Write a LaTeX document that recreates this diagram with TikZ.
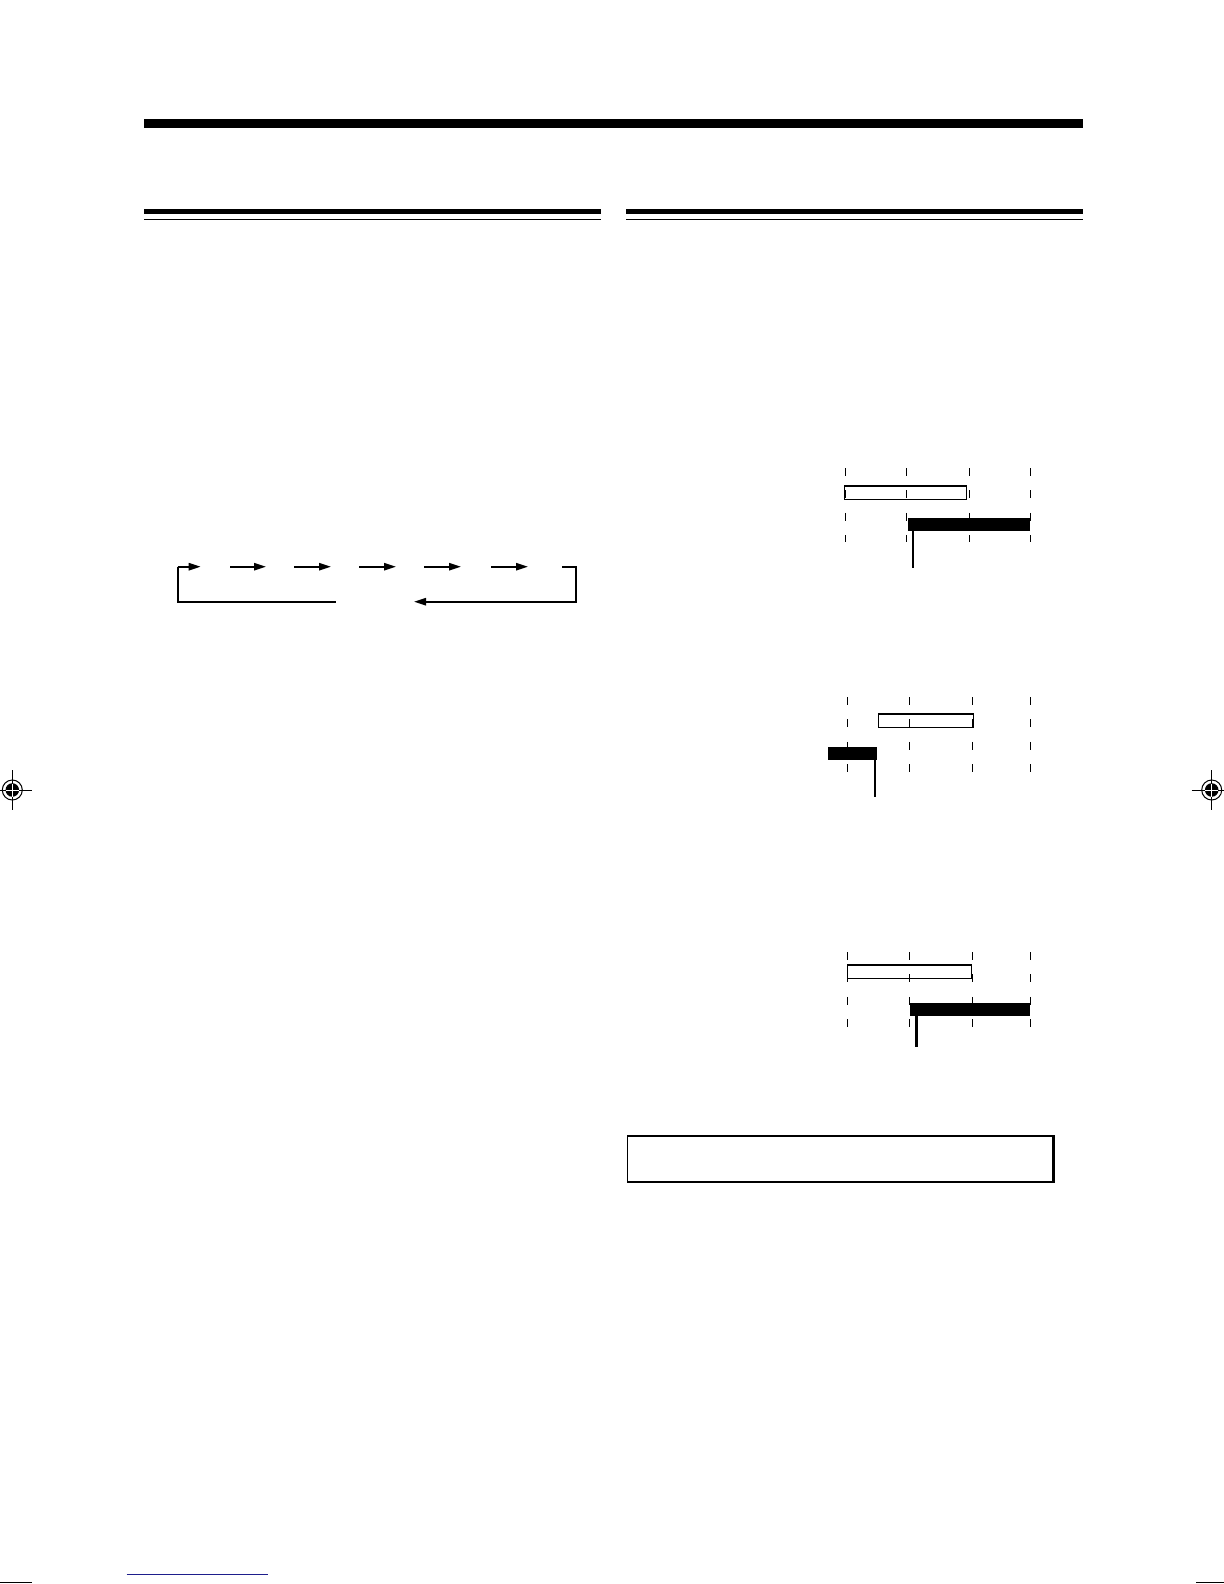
\documentclass[tikz,border=0pt]{standalone}
\usepackage{tikz}
\usetikzlibrary{arrows.meta}
\definecolor{rulenavy}{RGB}{30,30,140}
\tikzstyle{thinrule}=[line width=0.75pt]
\tikzstyle{flowline}=[draw,line width=1pt]
\tikzstyle{flowarrow}=[draw,line width=1pt,-{Triangle[length=6pt,width=3.6pt]}]
\tikzstyle{tick}=[draw,line width=0.5pt,dash pattern=on 4pt off 7.2pt]
\tikzstyle{openbar}=[draw,line width=0.6pt]
\tikzstyle{fullbar}=[fill=black]
\tikzstyle{marker}=[draw,line width=1.2pt]
\tikzstyle{notebox}=[draw,line width=0.7pt,minimum width=212.5pt,minimum height=23pt,inner sep=0pt]

\begin{document}
\begin{tikzpicture}[x=0.5pt,y=-0.5pt]
\useasboundingbox (0,0) rectangle (1224,1584);

    % page rules
    \fill (144,119) rectangle (1083,128);
    \foreach \xa/\xb in {144/601, 626/1083} {
        \fill (\xa,209) rectangle (\xb,214.3);
        \draw[thinrule] (\xa,219.3) -- (\xb,219.3);
    }

    % cycle of arrows
    \foreach \name/\x in {s1/177.7, e1/200.7, s2/230, e2/266, s3/294, e3/331,
                          s4/359, e4/396, s5/424, e5/461, s6/491, e6/528}
        \coordinate (\name) at (\x,566.7);
    \coordinate (tr) at (562,566.7);
    \coordinate (rc) at (576,566.7);
    \coordinate (bl) at (335.7,601.7);
    \coordinate (br) at (414,601.7);

    \foreach \i in {1,...,6}
        \path[flowarrow] (s\i) -- (e\i);
    \path[flowline] (bl) -| (s1);
    \path[flowarrow] (tr) -- (rc) |- (br);

    % timing charts: ticks
    \foreach \x in {845.3, 906.3, 969.7, 1030.3}
        \path[tick] (\x,468) -- (\x,542);
    \foreach \x in {847.7, 909.3, 972.3, 1030.3} {
        \path[tick] (\x,697) -- (\x,773);
        \path[tick] (\x,952) -- (\x,1027);
    }

    % chart 1
    \path[openbar] (844.3,486) rectangle (966.3,499.3);
    \path[fullbar] (908,517.7) rectangle (1030,530.7);
    \path[marker] (913,530.7) -- (913,567.7);

    % chart 2
    \path[openbar] (878.3,714) rectangle (973.7,727.3);
    \path[fullbar] (828,747) rectangle (876.7,760);
    \path[marker] (875,760) -- (875,796.7);

    % chart 3
    \path[openbar] (847.7,965) rectangle (971.7,978.3);
    \path[fullbar] (910,1003.3) rectangle (1030,1015.7);
    \path[marker] (916.3,1015.7) -- (916.3,1046.7);

    % framed note
    \node[notebox] (note) at (839.8,1159) {};
    \draw[line width=1.5pt] (note.north east) -- (note.south east);

    % registration marks
    \foreach \mx in {12.3, 1211.7} {
        \begin{scope}[shift={(\mx,790)}]
            \draw[line width=0.5pt] (-20,0) -- (20,0) (0,-20) -- (0,20);
            \draw[line width=0.5pt] (0,0) circle (5pt);
            \fill (0,0) circle (3.4pt);
            \draw[white,line width=0.5pt] (-6.5,0) -- (6.5,0) (0,-6.5) -- (0,6.5);
        \end{scope}
    }

    % bottom marks
    \draw[rulenavy,line width=0.6pt] (126.7,1574.3) -- (268.3,1574.3);
    \draw[line width=0.6pt] (0,1582.7) -- (32,1582.7);
    \draw[line width=0.6pt] (1196,1582.7) -- (1224,1582.7);

\end{tikzpicture}
\end{document}
